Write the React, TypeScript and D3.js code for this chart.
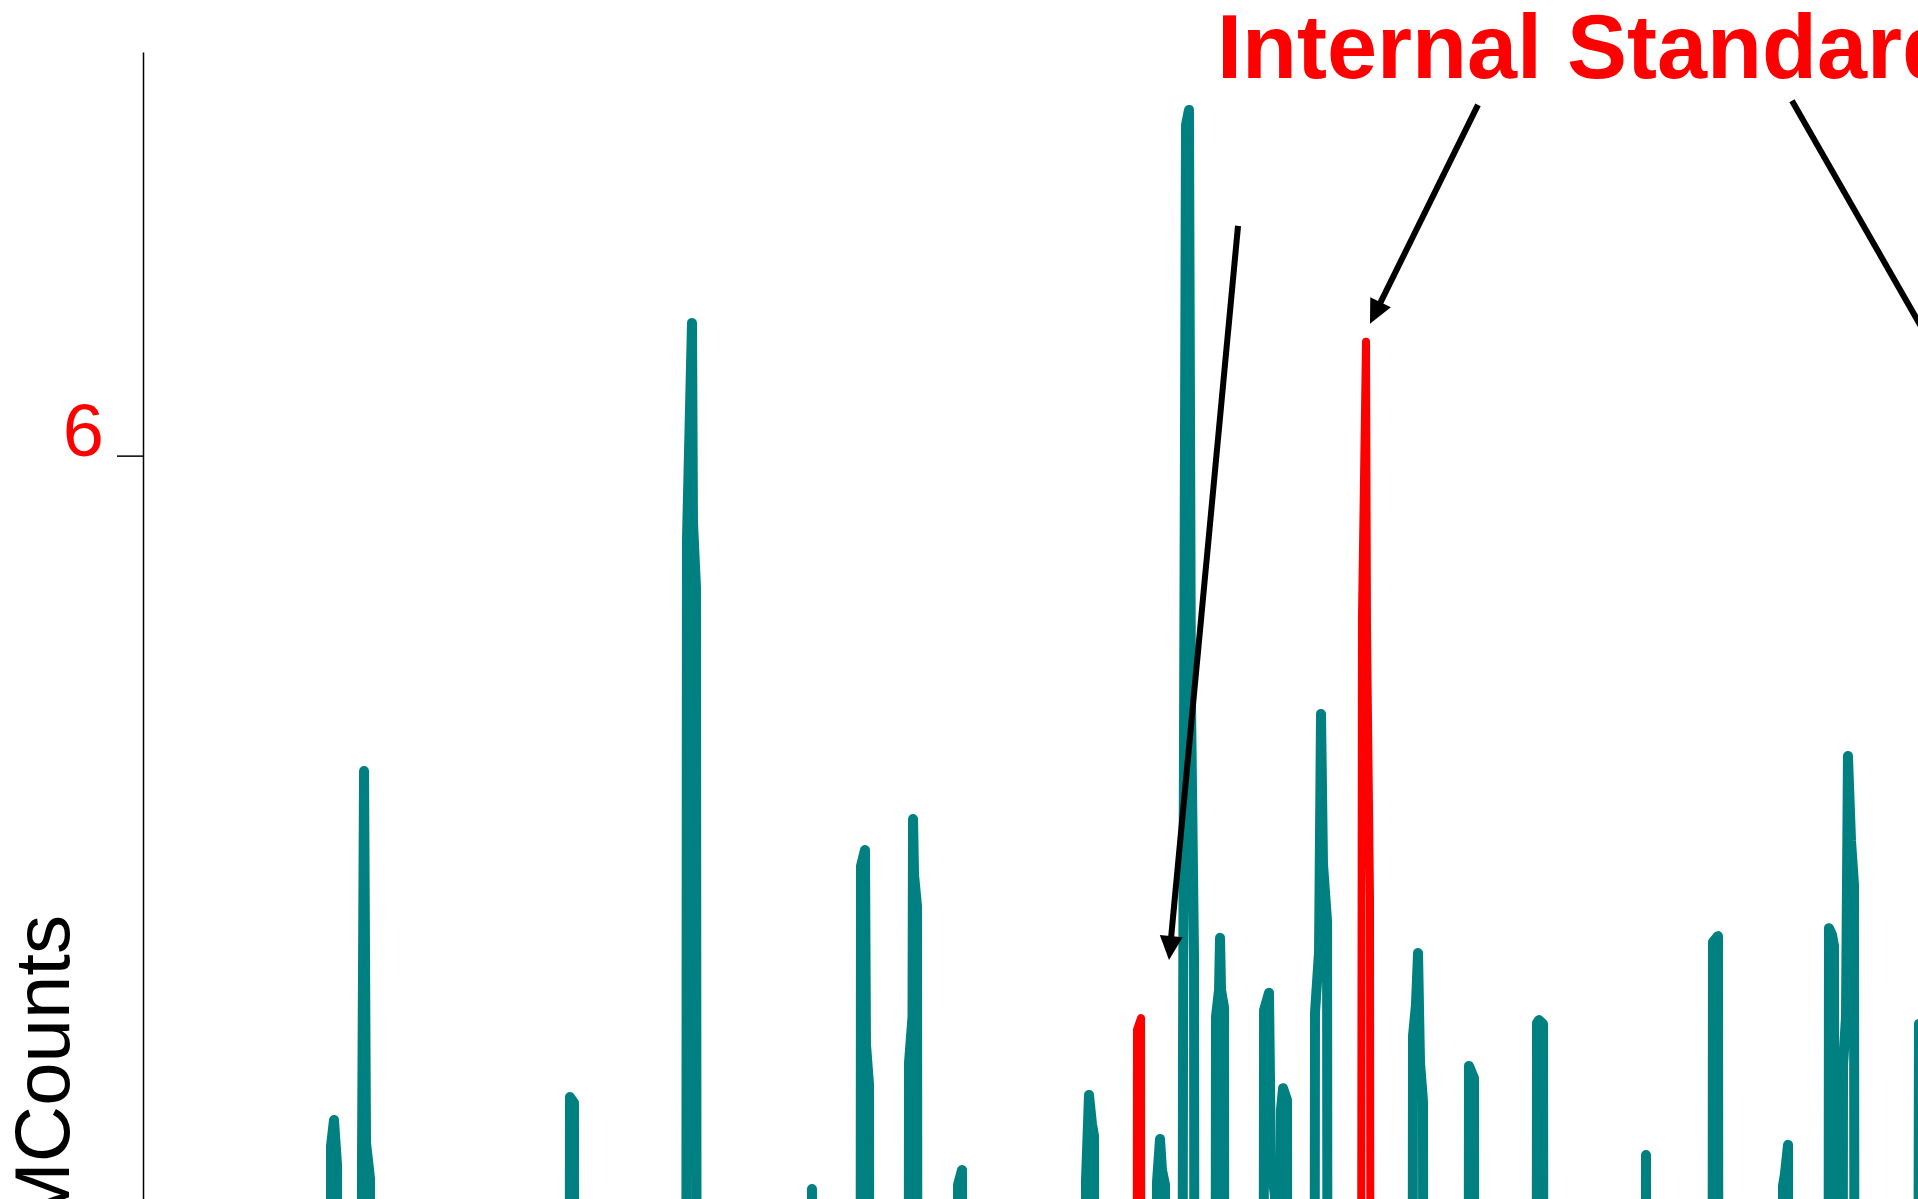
import React, { useEffect, useRef } from 'react';
import * as d3 from 'd3';

// sample trace (teal): retention time (min) and signal (MCounts)
const sampleTime = [
  2.067, 2.089, 2.122, 2.156, 2.178,
  2.411, 2.433, 2.456, 2.478, 2.522, 2.544,
  4.722, 4.744, 4.789, 4.811,
  6.022, 6.044, 6.100, 6.111, 6.144, 6.167,
  7.411, 7.433, 7.467,
  7.956, 7.978, 8.022, 8.033, 8.067, 8.089,
  8.489, 8.511, 8.550, 8.556, 8.567, 8.600, 8.622,
  9.022, 9.056, 9.100, 9.133,
  10.456, 10.478, 10.511, 10.544, 10.567, 10.589,
  11.244, 11.267, 11.300, 11.322, 11.356, 11.378,
  11.522, 11.556, 11.589, 11.622, 11.644, 11.678, 11.700,
  11.900, 11.922, 11.956, 11.967, 11.978, 12.011, 12.033,
  12.433, 12.456, 12.511, 12.533, 12.578, 12.600,
  12.622, 12.644, 12.667, 12.711, 12.733,
  13.000, 13.022, 13.067, 13.089, 13.111, 13.156, 13.178,
  14.089, 14.111, 14.144, 14.167, 14.189, 14.222, 14.244,
  14.711, 14.733, 14.789, 14.811,
  15.467, 15.489, 15.511, 15.556, 15.578,
  16.678, 16.700, 16.722,
  17.422, 17.444, 17.500, 17.522,
  18.200, 18.222, 18.244, 18.278, 18.300,
  18.711, 18.733, 18.767, 18.789, 18.811,
  18.867, 18.889, 18.922, 18.944, 18.978, 19.011, 19.033,
  19.689, 19.733, 19.789, 19.811,
];
const sampleCounts = [
  0, 4.356, 4.418, 4.311, 0,
  0, 4.311, 5.249, 4.364, 4.280, 0,
  0, 4.473, 4.459, 0,
  0, 5.799, 6.316, 5.842, 5.687, 0,
  0, 4.254, 0,
  0, 5.023, 5.061, 4.599, 4.502, 0,
  0, 4.554, 4.664, 5.135, 5.002, 4.928, 0,
  0, 4.264, 4.299, 0,
  0, 4.275, 4.478, 4.409, 4.380, 0,
  0, 4.271, 4.373, 4.299, 4.264, 0,
  0, 4.609, 6.787, 6.823, 5.418, 4.809, 0,
  0, 4.664, 4.728, 4.852, 4.728, 4.687, 0,
  0, 4.680, 4.721, 4.316, 4.235, 0,
  0, 4.442, 4.494, 4.466, 0,
  0, 4.673, 4.818, 5.385, 5.028, 4.892, 0,
  0, 4.618, 4.692, 4.816, 4.554, 4.464, 0,
  0, 4.547, 4.518, 0,
  0, 4.649, 4.656, 4.647, 0,
  0, 4.335, 0,
  0, 4.842, 4.856, 0,
  0, 4.261, 4.290, 4.359, 0,
  0, 4.875, 4.859, 4.833, 0,
  0, 4.545, 4.664, 5.285, 5.083, 4.978, 0,
  0, 4.647, 4.633, 0,
];

// internal standard trace (red)
const stdTime = [11.022, 11.044, 11.089, 11.111, 13.511, 13.544, 13.589, 13.600, 13.633, 13.656];
const stdCounts = [0, 4.633, 4.661, 0, 0, 5.614, 6.271, 5.585, 4.959, 0];

const yTicks = [0, 2, 4, 6];
const yTitle = 'MCounts';
const noteText = 'Internal Standards';
const notePos = [11.933, 6.9];

// annotation arrows, tail -> head in (time, MCounts)
const arrowTails = [[12.167, 6.547], [14.833, 6.835], [18.322, 6.845]];
const arrowHeads = [[11.4, 4.799], [13.633, 6.314], [20.222, 6.133]];

const W = 1918;
const H = 1199;
const TEAL = '#008080';
const FONT = 'Arial, "Liberation Sans", sans-serif';

const App: React.FC = () => {
  const svgRef = useRef<SVGSVGElement>(null);

  useEffect(() => {
    if (!svgRef.current) return;
    document.body.style.margin = '0';
    document.body.style.overflow = 'hidden';

    const svg = d3.select(svgRef.current);
    svg.selectAll('*').remove();

    const x = d3.scaleLinear().domain([0, 20]).range([143, 1943]);
    const y = d3.scaleLinear().domain([0, 6.961]).range([2975.7, 52]);

    // y axis: domain line and ticks only
    const axis = svg
      .append('g')
      .attr('transform', 'translate(143,0)')
      .call(
        d3.axisLeft(y)
          .tickValues(yTicks)
          .tickSize(26)
          .tickSizeOuter(0)
          .tickPadding(13)
          .tickFormat(d3.format('d'))
      );
    axis.select('.domain').attr('stroke', '#000').attr('stroke-width', 1.5);
    axis.selectAll('.tick line').attr('stroke', '#000').attr('stroke-width', 1.5);
    axis
      .selectAll('.tick text')
      .attr('fill', 'red')
      .attr('font-size', 74)
      .attr('font-family', FONT)
      .attr('dy', '0');

    // axis title
    svg
      .append('text')
      .attr('transform', 'translate(69,915) rotate(-90)')
      .attr('text-anchor', 'end')
      .attr('font-size', 78)
      .attr('font-family', FONT)
      .attr('fill', '#000')
      .text(yTitle);

    const trace = d3
      .line<[number, number]>()
      .x((d) => x(d[0]))
      .y((d) => y(d[1]));

    svg
      .append('path')
      .datum(d3.zip(sampleTime, sampleCounts) as [number, number][])
      .attr('fill', 'none')
      .attr('stroke', TEAL)
      .attr('stroke-width', 10)
      .attr('stroke-linejoin', 'round')
      .attr('stroke-linecap', 'round')
      .attr('d', trace);

    svg
      .append('path')
      .datum(d3.zip(stdTime, stdCounts) as [number, number][])
      .attr('fill', 'none')
      .attr('stroke', 'red')
      .attr('stroke-width', 8)
      .attr('stroke-linejoin', 'round')
      .attr('stroke-linecap', 'round')
      .attr('d', trace);

    // annotation
    svg
      .append('text')
      .attr('x', x(notePos[0]))
      .attr('y', y(notePos[1]))
      .attr('font-size', 90)
      .attr('font-weight', 'bold')
      .attr('font-family', FONT)
      .attr('fill', 'red')
      .text(noteText);

    const headLen = 24;
    const headW = 23;
    arrowTails.forEach((tail, i) => {
      const x0 = x(tail[0]);
      const y0 = y(tail[1]);
      const x1 = x(arrowHeads[i][0]);
      const y1 = y(arrowHeads[i][1]);
      const len = Math.hypot(x1 - x0, y1 - y0);
      const ux = (x1 - x0) / len;
      const uy = (y1 - y0) / len;
      const bx = x1 - ux * headLen;
      const by = y1 - uy * headLen;
      svg
        .append('line')
        .attr('x1', x0)
        .attr('y1', y0)
        .attr('x2', x1 - ux * (headLen - 4))
        .attr('y2', y1 - uy * (headLen - 4))
        .attr('stroke', '#000')
        .attr('stroke-width', 6);
      svg
        .append('path')
        .attr(
          'd',
          `M${x1},${y1}L${bx - (uy * headW) / 2},${by + (ux * headW) / 2}L${bx + (uy * headW) / 2},${by - (ux * headW) / 2}Z`
        )
        .attr('fill', '#000');
    });
  }, []);

  return (
    <svg
      ref={svgRef}
      width={W}
      height={H}
      style={{ display: 'block', position: 'absolute', left: 0, top: 0, background: '#fff' }}
    />
  );
};

export default App;
